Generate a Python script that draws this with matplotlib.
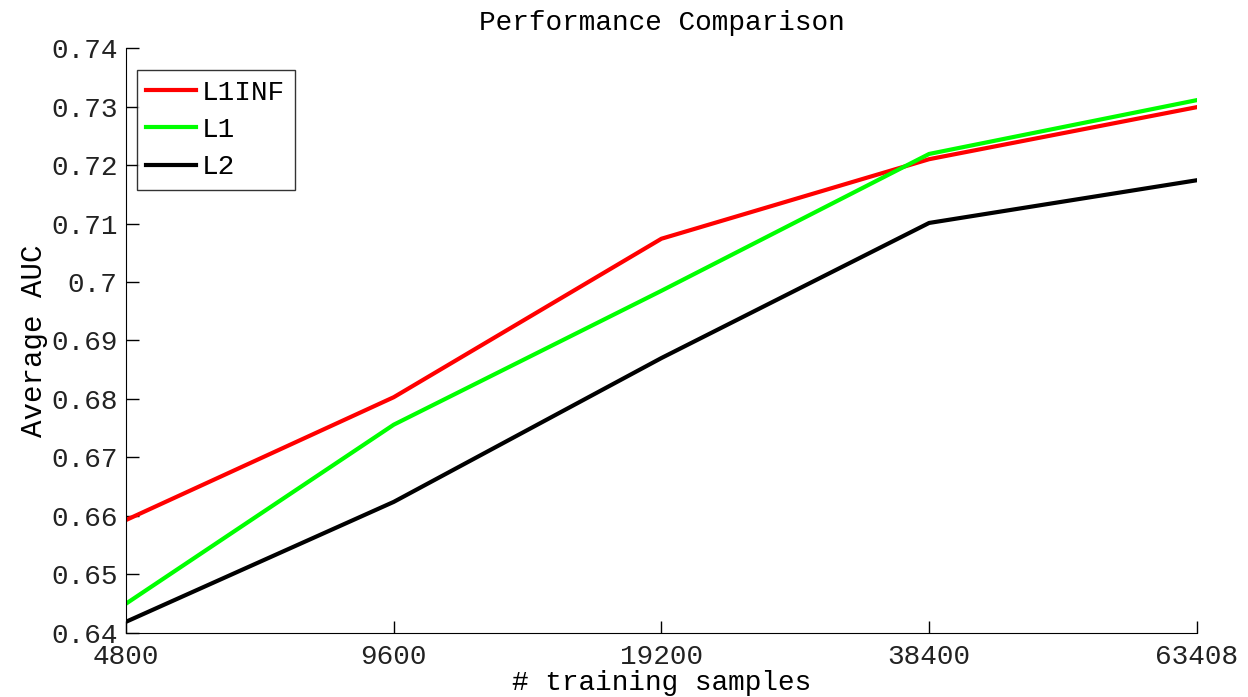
import matplotlib
matplotlib.use("Agg")
import matplotlib.pyplot as plt
import numpy as np

# dane
sizes = ["4800", "9600", "19200", "38400", "63408"]
auc_l1inf = [0.6593, 0.6803, 0.7074, 0.7210, 0.7299]
auc_l1 = [0.6450, 0.6756, 0.6985, 0.7219, 0.7311]
auc_l2 = [0.6419, 0.6624, 0.6870, 0.7101, 0.7174]
yticks = [0.64, 0.65, 0.66, 0.67, 0.68, 0.69, 0.70, 0.71, 0.72, 0.73, 0.74]
ytick_labels = ["0.64", "0.65", "0.66", "0.67", "0.68", "0.69", "0.7", "0.71", "0.72", "0.73", "0.74"]

plt.rcParams['font.family'] = ['Liberation Mono', 'DejaVu Sans Mono']

fig = plt.figure(figsize=(12.48, 6.97), dpi=100)
ax = fig.add_axes([0.101, 0.092, 0.858, 0.839])
x = np.arange(len(sizes))
ax.plot(x, auc_l1inf, color='#ff0000', lw=3, label='L1INF')
ax.plot(x, auc_l1, color='#00ff00', lw=3, label='L1')
ax.plot(x, auc_l2, color='#000000', lw=3, label='L2')

ax.set_xlim(0, len(sizes) - 1)
ax.set_ylim(0.64, 0.74)
ax.set_xticks(x)
ax.set_xticklabels(sizes, fontsize=20, color='#222222')
ax.set_yticks(yticks)
ax.set_yticklabels(ytick_labels, fontsize=20, color='#222222')
ax.tick_params(direction='in', length=9, width=1)
ax.tick_params(axis='y', pad=6)
ax.tick_params(axis='x', pad=8)
ax.spines['top'].set_visible(False)
ax.spines['right'].set_visible(False)

ax.set_title('Performance Comparison', fontsize=20, pad=13)
ax.set_xlabel('# training samples', fontsize=20, labelpad=0)
ax.set_ylabel('Average AUC', fontsize=21, labelpad=2)

leg = ax.legend(loc='upper left', bbox_to_anchor=(0.01, 0.962), fontsize=20,
                frameon=True, fancybox=False, edgecolor='black',
                handlelength=1.8, handletextpad=0.2, borderpad=0.35,
                labelspacing=0.4, borderaxespad=0)
leg.get_frame().set_linewidth(1)

plt.savefig('out.png', dpi=100)
plt.close()
